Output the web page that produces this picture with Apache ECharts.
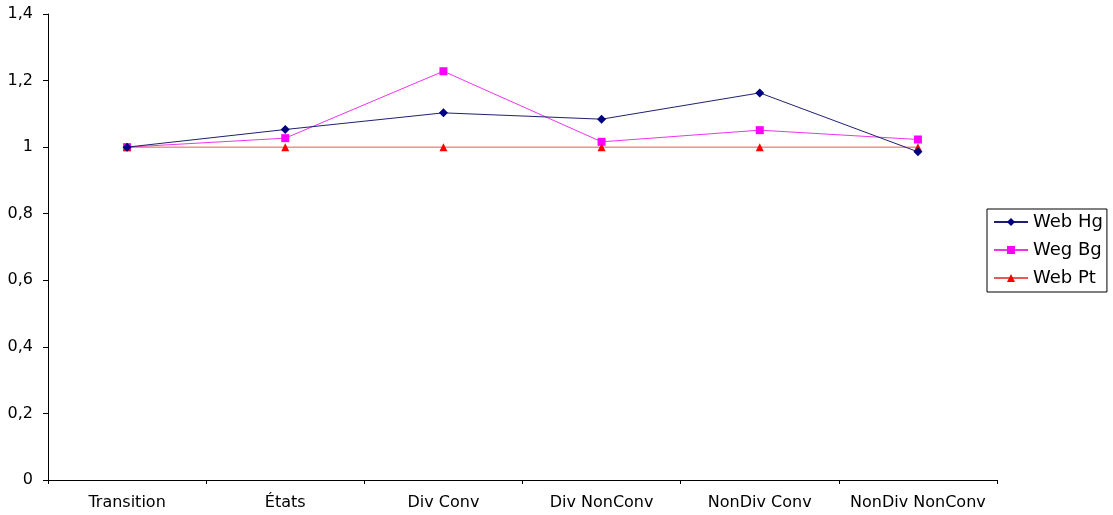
<!DOCTYPE html>
<html>
<head>
<meta charset="utf-8">
<script src="https://cdn.jsdelivr.net/npm/echarts@6/dist/echarts.min.js"></script>
<style>
html,body{margin:0;padding:0;background:#fff;}
#c{width:1113px;height:515px;}
</style>
</head>
<body>
<div id="c"></div>
<script>
const categories = ['Transition', 'États', 'Div Conv', 'Div NonConv', 'NonDiv Conv', 'NonDiv NonConv'];
const webHg = [1.0, 1.053, 1.103, 1.084, 1.163, 0.986];
const wegBg = [1.0, 1.027, 1.228, 1.016, 1.051, 1.023];
const webPt = [1.0, 1.0, 1.0, 1.0, 1.0, 1.0];
const seriesNames = ['Web Hg', 'Weg Bg', 'Web Pt'];

const font = 'DejaVu Sans';
const chart = echarts.init(document.getElementById('c'), null, {renderer: 'canvas'});
chart.setOption({
  animation: false,
  backgroundColor: '#fff',
  grid: {left: 48, right: 116, top: 14, bottom: 35, containLabel: false},
  legend: {
    orient: 'vertical',
    left: 987, top: 209,
    padding: [3, 4, 4, 6],
    itemGap: 8,
    itemWidth: 34,
    itemHeight: 10,
    borderColor: '#000',
    borderWidth: 1,
    textStyle: {fontFamily: font, fontSize: 18, color: '#000', lineHeight: 20},
    data: seriesNames
  },
  xAxis: {
    type: 'category',
    data: categories,
    boundaryGap: true,
    axisLine: {lineStyle: {color: '#000', width: 1}},
    axisTick: {show: true, length: 4, lineStyle: {color: '#000'}},
    axisLabel: {fontFamily: font, fontSize: 16, color: '#000', margin: 15, interval: 0},
    splitLine: {show: false}
  },
  yAxis: {
    type: 'value',
    min: 0, max: 1.4, interval: 0.2,
    axisLine: {show: true, lineStyle: {color: '#000', width: 1}},
    axisTick: {show: true, length: 5, lineStyle: {color: '#000'}},
    axisLabel: {
      fontFamily: font, fontSize: 16, color: '#000', margin: 15,
      formatter: v => String(+v.toFixed(1)).replace('.', ',')
    },
    splitLine: {show: false}
  },
  series: [
    {
      name: seriesNames[0], type: 'line', data: webHg,
      symbol: 'diamond', symbolSize: 9,
      itemStyle: {color: '#000080'},
      lineStyle: {color: '#202070', width: 1}, z: 3
    },
    {
      name: seriesNames[1], type: 'line', data: wegBg,
      symbol: 'rect', symbolSize: 8,
      itemStyle: {color: '#ff00ff'},
      lineStyle: {color: '#ee33ee', width: 1}, z: 2
    },
    {
      name: seriesNames[2], type: 'line', data: webPt,
      symbol: 'triangle', symbolSize: 8,
      itemStyle: {color: '#ff0000'},
      lineStyle: {color: '#e85858', width: 1}, z: 2
    }
  ]
});
</script>
</body>
</html>
